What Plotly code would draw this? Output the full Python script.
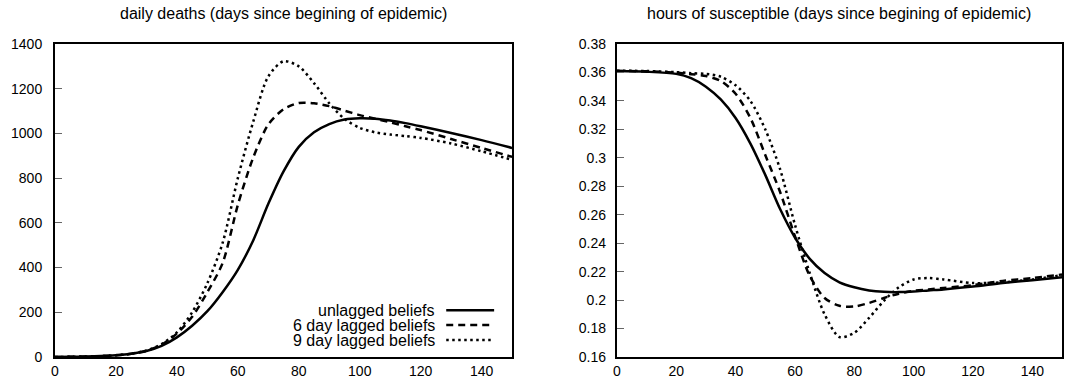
import plotly.graph_objects as go

# ---- daily deaths (left panel) ----
days_deaths = [0, 5, 10, 15, 20, 25, 30, 35, 40, 45, 50, 55, 60, 65, 70, 75, 80, 85,
               90, 95, 100, 105, 110, 115, 120, 130, 140, 150]
deaths_unlagged = [0, 1, 2, 4, 8, 15, 27, 50, 88, 140, 205, 290, 390, 520, 685, 830, 940,
                   1005, 1042, 1062, 1068, 1066, 1058, 1046, 1032, 1002, 970, 935]
deaths_lag6 = [0, 1, 2, 4, 8, 15, 28, 55, 105, 180, 290, 420, 680, 890, 1040, 1108, 1136,
               1135, 1122, 1102, 1082, 1066, 1050, 1032, 1015, 975, 935, 895]
deaths_lag9 = [0, 1, 2, 4, 8, 15, 29, 58, 110, 200, 330, 510, 800, 1050, 1255, 1323, 1300,
               1225, 1135, 1065, 1025, 1005, 995, 988, 980, 955, 920, 882]

# ---- hours of susceptible (right panel) ----
days_hours = [0, 10, 20, 25, 30, 35, 40, 45, 50, 55, 60, 65, 70, 75, 80, 85, 90, 95,
              100, 105, 110, 120, 130, 140, 150]
hours_unlagged = [0.361, 0.3605, 0.359, 0.356, 0.350, 0.341, 0.328, 0.310, 0.288, 0.264,
                  0.244, 0.229, 0.219, 0.2125, 0.2090, 0.2068, 0.2058, 0.2056, 0.206, 0.2068,
                  0.2075, 0.2095, 0.212, 0.214, 0.216]
hours_lag6 = [0.361, 0.3608, 0.3598, 0.3588, 0.3575, 0.354, 0.345, 0.328, 0.302, 0.276,
              0.245, 0.217, 0.2015, 0.196, 0.1955, 0.198, 0.2015, 0.2045, 0.2065, 0.2075,
              0.2085, 0.2105, 0.2135, 0.2155, 0.218]
hours_lag9 = [0.3612, 0.361, 0.3602, 0.3595, 0.359, 0.357, 0.351, 0.340, 0.320, 0.292,
              0.253, 0.219, 0.190, 0.174, 0.177, 0.1875, 0.1995, 0.209, 0.2145, 0.2155,
              0.2145, 0.212, 0.2125, 0.2145, 0.2175]

series_names = ["unlagged beliefs", "6 day lagged beliefs", "9 day lagged beliefs"]

x_ticks = [0, 20, 40, 60, 80, 100, 120, 140]
deaths_ticks = [0, 200, 400, 600, 800, 1000, 1200, 1400]
hours_ticks = [0.16, 0.18, 0.2, 0.22, 0.24, 0.26, 0.28, 0.3, 0.32, 0.34, 0.36, 0.38]
hours_tick_labels = ["0.16", "0.18", "0.2", "0.22", "0.24", "0.26", "0.28", "0.3",
                     "0.32", "0.34", "0.36", "0.38"]

FONT = "Liberation Sans, Arial, Helvetica, sans-serif"
TICK_SIZE = 14
TEXT_SIZE = 16
LW = 2.5
dashes = ["solid", "7px,5px", "2.5px,3.5px"]

fig = go.Figure()

for ys, dash, name in zip([deaths_unlagged, deaths_lag6, deaths_lag9], dashes, series_names):
    fig.add_trace(go.Scatter(x=days_deaths, y=ys, mode="lines", name=name,
                             line=dict(color="black", width=LW, dash=dash,
                                       shape="spline", smoothing=0.8),
                             xaxis="x", yaxis="y", showlegend=False))

for ys, dash, name in zip([hours_unlagged, hours_lag6, hours_lag9], dashes, series_names):
    fig.add_trace(go.Scatter(x=days_hours, y=ys, mode="lines", name=name,
                             line=dict(color="black", width=LW, dash=dash,
                                       shape="spline", smoothing=0.8),
                             xaxis="x2", yaxis="y2", showlegend=False))

L, R, T, B = 55, 4, 44, 25
W, H = 1068, 383
pw = W - L - R
ph = H - T - B

def px_x(px):
    return (px - L) / pw

def px_y(py):
    return (H - B - py) / ph

left_dom = [0, px_x(513)]
right_dom = [px_x(618), 1.0]

axis_common = dict(showgrid=False, zeroline=False, showline=True, linecolor="black",
                   linewidth=2, mirror=True,
                   tickfont=dict(family=FONT, size=TICK_SIZE, color="black"))

fig.update_layout(
    width=W, height=H,
    margin=dict(l=L, r=R, t=T, b=B, pad=0),
    paper_bgcolor="white", plot_bgcolor="white",
    font=dict(family=FONT, size=TICK_SIZE, color="black"),
    xaxis=dict(domain=left_dom, range=[0, 150], tickvals=x_ticks, ticks="",
               anchor="y", **axis_common),
    yaxis=dict(domain=[0, 1], range=[0, 1400], tickvals=deaths_ticks, ticks="inside",
               ticklen=7, tickcolor="#666", tickwidth=1, ticklabelstandoff=8,
               anchor="x", **axis_common),
    xaxis2=dict(domain=right_dom, range=[0, 150], tickvals=x_ticks, ticks="",
                anchor="y2", **axis_common),
    yaxis2=dict(domain=[0, 1], range=[0.16, 0.38], tickvals=hours_ticks,
                ticktext=hours_tick_labels, ticks="inside", ticklen=7, tickcolor="#666",
                tickwidth=1, ticklabelstandoff=6, anchor="x2", **axis_common),
)

# panel titles
titles = ["daily deaths (days since begining of epidemic)",
          "hours of susceptible (days since begining of epidemic)"]
for dom, txt in zip([left_dom, right_dom], titles):
    fig.add_annotation(text=txt, xref="paper", yref="paper",
                       x=(dom[0] + dom[1]) / 2, y=px_y(13), xanchor="center",
                       yanchor="middle", showarrow=False,
                       font=dict(family=FONT, size=TEXT_SIZE, color="black"))

# key in the lower right of the deaths panel: label, then line sample
key_rows = [311, 326, 341]
for name, dash, row in zip(series_names, dashes, key_rows):
    fig.add_annotation(text=name, xref="paper", yref="paper", x=px_x(438), y=px_y(row),
                       xanchor="right", yanchor="middle", showarrow=False,
                       font=dict(family=FONT, size=TEXT_SIZE, color="black"))
    fig.add_shape(type="line", xref="paper", yref="paper",
                  x0=px_x(447), x1=px_x(495), y0=px_y(row), y1=px_y(row),
                  line=dict(color="black", width=LW, dash=dash))

fig.write_html("out.html")
